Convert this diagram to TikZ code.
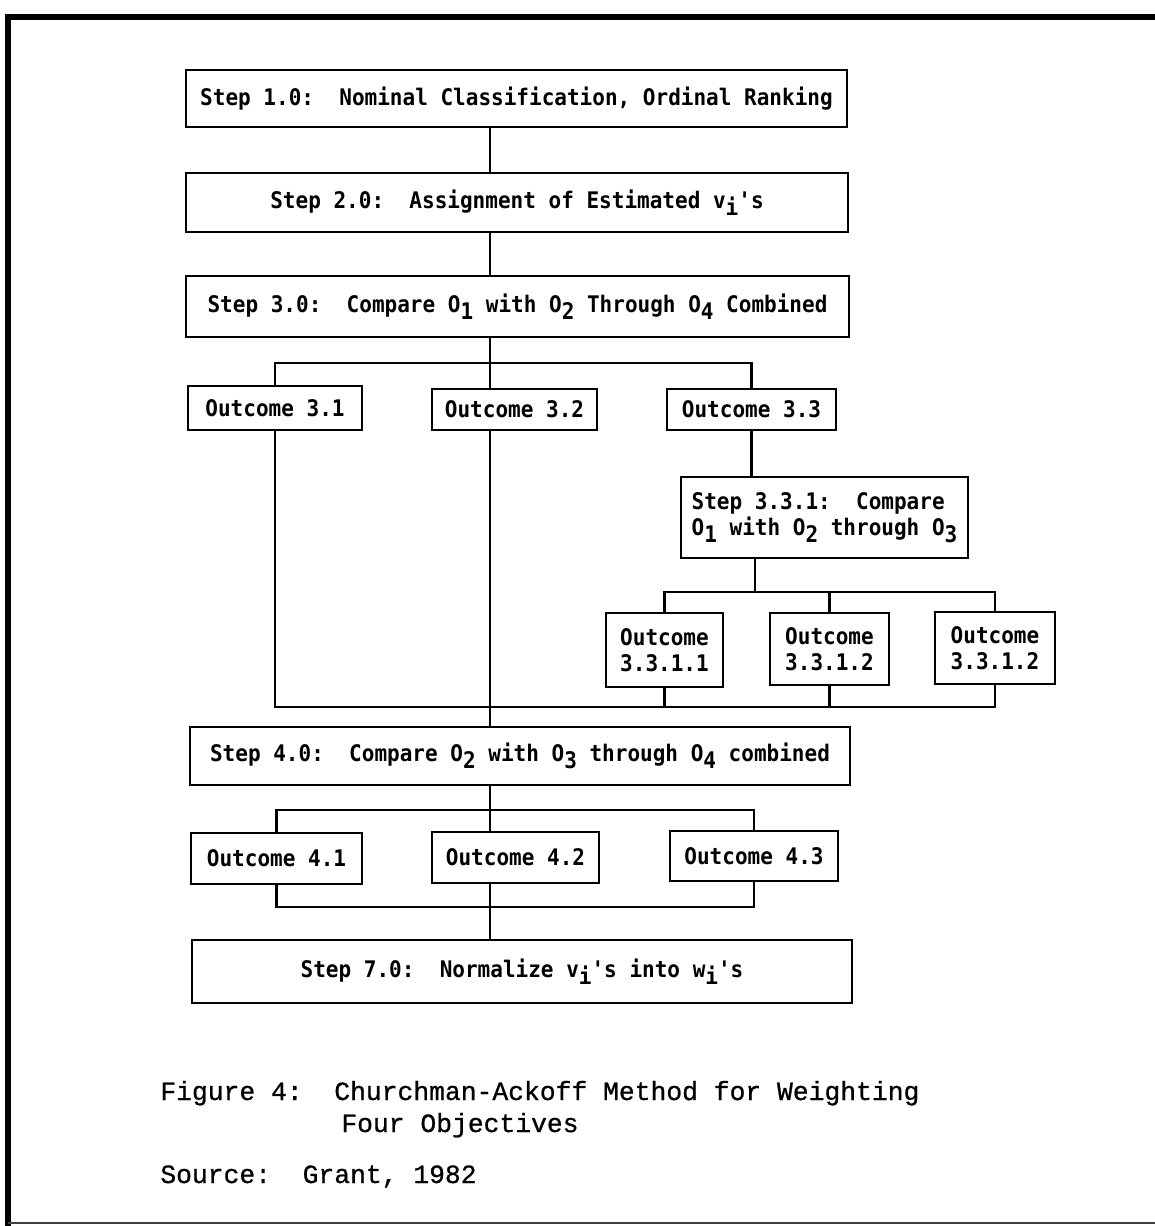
\documentclass[tikz,border=0pt]{standalone}
\usepackage{fontspec}
\usepackage{tikz}
\newfontfamily\boxfont{DejaVu Sans Mono}[FakeStretch=0.92]
\newfontfamily\capfont{Liberation Mono}[FakeBold=0.8]
\newcommand{\lowr}[1]{\raisebox{-4pt}{#1}}
\tikzset{
  stepbox/.style={draw, line width=1.6pt, inner sep=0pt,
    font=\boxfont\bfseries\fontsize{13}{15}\selectfont},
  outbox/.style={stepbox},
  twoline/.style={align=center},
  boxsize/.style 2 args={minimum width=#1*0.02cm, minimum height=#2*0.02cm},
  link/.style={line width=1.3pt},
  frameline/.style={line width=3.4pt},
  captext/.style={anchor=base west, inner sep=0pt,
    font=\capfont\fontsize{15}{18}\selectfont}
}

\begin{document}
\begin{tikzpicture}[x=0.02cm,y=-0.02cm]
    \useasboundingbox (0,0) rectangle (1155,1226);
    \draw[frameline] (8,1226) -- (8,17) -- (1155,17);
    \draw[line width=1.2pt, black!75] (8,1223) -- (1155,1223);

    \coordinate (sp) at (490,0);
    \coordinate (b3) at (490,363);
    \coordinate (b4) at (490,707);
    \coordinate (b5) at (755,592);
    \coordinate (b6) at (490,810);
    \coordinate (b7) at (490,907);

    \node[stepbox, boxsize={661}{57}] (s1) at (516.5,98.5) {Step 1.0:~~Nominal Classification, Ordinal Ranking};
    \node[stepbox, boxsize={662}{59}] (s2) at (517,202.5) {Step 2.0:~~Assignment of Estimated v\lowr{i}'s};
    \node[stepbox, boxsize={663}{61}] (s3) at (517.5,306.5) {Step 3.0:~~Compare O\lowr{1} with O\lowr{2} Through O\lowr{4} Combined};
    \node[outbox, boxsize={174}{44}] (o31) at (275,408) {Outcome 3.1};
    \node[outbox, boxsize={165}{41}] (o32) at (514.5,409.5) {Outcome 3.2};
    \node[outbox, boxsize={169}{41}] (o33) at (751.5,409.5) {Outcome 3.3};
    \node[stepbox, align=left, boxsize={287}{81}] (s331) at (824.5,517.5) {Step 3.3.1:~~Compare\\O\lowr{1} with O\lowr{2} through O\lowr{3}};
    \node[outbox, twoline, boxsize={117}{74}] (o3311) at (664.5,650) {Outcome\\3.3.1.1};
    \node[outbox, twoline, boxsize={119}{72}] (o3312) at (829.5,649) {Outcome\\3.3.1.2};
    \node[outbox, twoline, boxsize={120}{72}] (o3313) at (995,648) {Outcome\\3.3.1.2};
    \node[stepbox, boxsize={660}{58}] (s4) at (520,756) {Step 4.0:~~Compare O\lowr{2} with O\lowr{3} through O\lowr{4} combined};
    \node[outbox, boxsize={171}{51}] (o41) at (276.5,858.5) {Outcome 4.1};
    \node[outbox, boxsize={167}{51}] (o42) at (515.5,857.5) {Outcome 4.2};
    \node[outbox, boxsize={168}{50}] (o43) at (754,856) {Outcome 4.3};
    \node[stepbox, boxsize={660}{63}] (s7) at (522,971.5) {Step 7.0:~~Normalize v\lowr{i}'s into w\lowr{i}'s};

    \draw[link] (s1.south -| sp) -- (s2.north -| sp);
    \draw[link] (s2.south -| sp) -- (s3.north -| sp);
    \draw[link] (s3.south -| sp) -- (o32.north -| sp);
    \draw[link] (o31.north) -- (o31.north |- b3) -- (o33.north |- b3) -- (o33.north);
    \draw[link] (o33.south) -- (o33.south |- s331.north);
    \draw[link] (b5 |- s331.south) -- (b5);
    \draw[link] (o3311.north) -- (o3311.north |- b5) -- (o3313.north |- b5) -- (o3313.north);
    \draw[link] (o3312.north) -- (o3312.north |- b5);
    \draw[link] (o31.south) -- (o31.south |- b4) -- (o3313.south |- b4) -- (o3313.south);
    \draw[link] (o3311.south) -- (o3311.south |- b4);
    \draw[link] (o3312.south) -- (o3312.south |- b4);
    \draw[link] (o32.south -| sp) -- (s4.north -| sp);
    \draw[link] (s4.south -| sp) -- (o42.north -| sp);
    \draw[link] (o41.north) -- (o41.north |- b6) -- (o43.north |- b6) -- (o43.north);
    \draw[link] (o41.south) -- (o41.south |- b7) -- (o43.south |- b7) -- (o43.south);
    \draw[link] (o42.south -| sp) -- (s7.north -| sp);

    \node[captext] (fig) at (160,1100) {Figure 4:~~Churchman-Ackoff Method for Weighting};
    \node[captext] (fig2) at (341,1132) {Four Objectives};
    \node[captext] (src) at (160,1183) {Source:~~Grant, 1982};
\end{tikzpicture}
\end{document}
